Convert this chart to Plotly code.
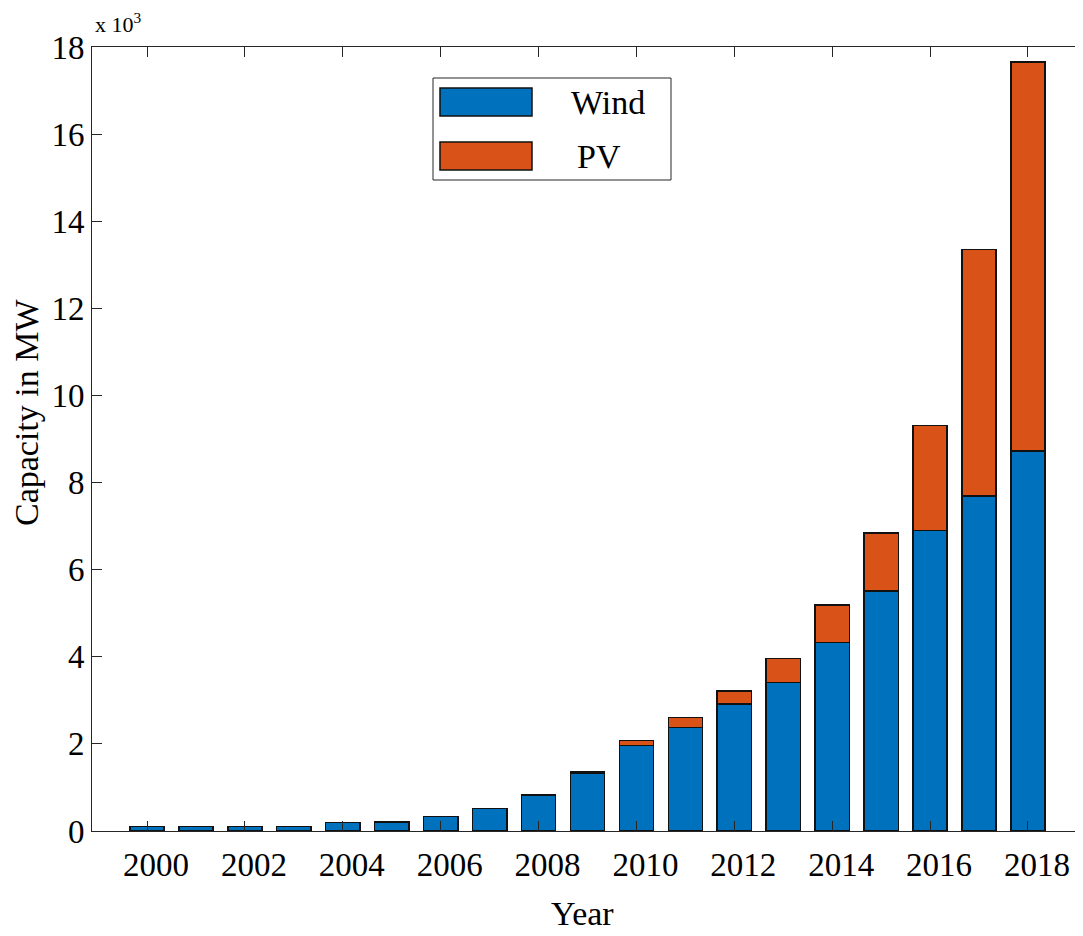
import plotly.graph_objects as go

years = list(range(2000, 2019))
wind_mw = [100, 100, 100, 100, 200, 210, 330, 520, 826, 1330, 1958, 2372,
           2916, 3414, 4323, 5510, 6894, 7691, 8724]
pv_mw = [0, 0, 0, 0, 0, 0, 0, 0, 15, 30, 115, 238,
         298, 550, 865, 1331, 2412, 5663, 8937]
ytick_vals = [0, 2000, 4000, 6000, 8000, 10000, 12000, 14000, 16000, 18000]
ytick_text = ["0", "2", "4", "6", "8", "10", "12", "14", "16", "18"]
xtick_vals = [2000, 2002, 2004, 2006, 2008, 2010, 2012, 2014, 2016, 2018]

FONT = "Liberation Serif"
AX = "#262626"
BLUE = "#0072BD"
ORANGE = "#D95319"

OFF = 8  # page body margin
W, H = 1075, 928
L, R, T = 84, 0, 39
PH = 784
B = H - T - PH
PW = W - L - R
X0, Y0 = OFF + L, OFF + T + PH  # screen position of plot bottom-left

def px(x):
    return (x - X0) / PW

def py(y):
    return (Y0 - y) / PH

fig = go.Figure()
fig.add_bar(x=years, y=wind_mw, name="Wind", marker=dict(color=BLUE, line=dict(color="#111111", width=1.5)),
            showlegend=False)
fig.add_bar(x=years, y=pv_mw, name="PV", marker=dict(color=ORANGE, line=dict(color="#111111", width=1.5)),
            showlegend=False)

fig.update_layout(
    width=W, height=H,
    margin=dict(l=L, r=R, t=T, b=B),
    paper_bgcolor="white", plot_bgcolor="white",
    barmode="stack", bargap=0.3,
    font=dict(family=FONT, size=33, color="black"),
    xaxis=dict(range=[1998.875, 2019.125], tickvals=xtick_vals, ticks="inside", ticklen=10,
               tickcolor=AX, showline=True, linecolor=AX, linewidth=1, mirror="ticks",
               showgrid=False, zeroline=False, tickfont=dict(size=33, family=FONT),
               ticklabelshift=9, ticklabelstandoff=4),
    yaxis=dict(range=[0, 18000], tickvals=ytick_vals, ticktext=ytick_text, ticks="inside",
               ticklen=10, tickcolor=AX, showline=True, linecolor=AX, linewidth=1,
               showgrid=False, zeroline=False, tickfont=dict(size=33, family=FONT)),
    yaxis2=dict(range=[0, 18000], tickvals=ytick_vals, overlaying="y", side="right",
                ticks="inside", ticklen=10, tickcolor=AX, showline=False,
                showticklabels=False, showgrid=False, zeroline=False),
)

# Legend drawn as shapes + text
fig.add_shape(type="rect", xref="paper", yref="paper", x0=px(433), x1=px(671), y0=py(180), y1=py(78),
              line=dict(color=AX, width=1), fillcolor="white")
fig.add_shape(type="rect", xref="paper", yref="paper", x0=px(440), x1=px(532), y0=py(116), y1=py(88),
              line=dict(color="#111111", width=1.5), fillcolor=BLUE)
fig.add_shape(type="rect", xref="paper", yref="paper", x0=px(440), x1=px(532), y0=py(170), y1=py(142),
              line=dict(color="#111111", width=1.5), fillcolor=ORANGE)
fig.add_annotation(xref="paper", yref="paper", x=px(607.5), y=py(103), text="Wind", showarrow=False,
                   xanchor="center", yanchor="middle", font=dict(size=34, family=FONT))
fig.add_annotation(xref="paper", yref="paper", x=px(598.5), y=py(157), text="PV", showarrow=False,
                   xanchor="center", yanchor="middle", font=dict(size=34, family=FONT))

# Exponent label and axis titles
fig.add_annotation(xref="paper", yref="paper", x=px(93), y=py(23), text="x 10<sup>3</sup>", showarrow=False,
                   xanchor="left", yanchor="middle", font=dict(size=22, family=FONT))
fig.add_annotation(xref="paper", yref="paper", x=px(582), y=py(913), text="Year", showarrow=False,
                   xanchor="center", yanchor="middle", font=dict(size=34, family=FONT))
fig.add_annotation(xref="paper", yref="paper", x=px(27), y=py(412), text="Capacity in MW", showarrow=False,
                   textangle=-90, xanchor="center", yanchor="middle", font=dict(size=34, family=FONT))

fig.write_html("out.html")
